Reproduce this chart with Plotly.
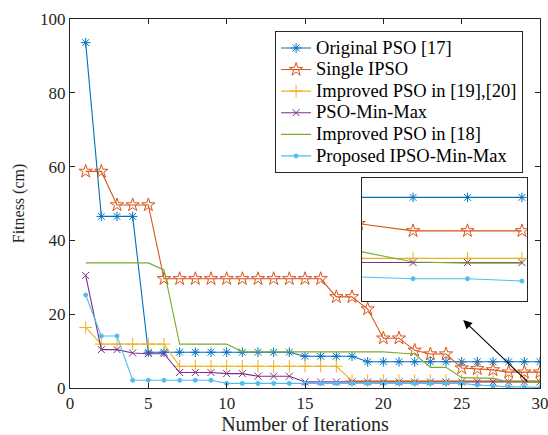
import plotly.graph_objects as go

# Iteration index
iterations = list(range(1, 31))

# Best fitness (cm) per iteration for each optimiser
original_pso = [93.6, 46.5, 46.5, 46.5, 9.7, 9.7, 9.7, 9.7, 9.7, 9.7,
                9.7, 9.7, 9.7, 9.7, 8.6, 8.6, 8.6, 8.6, 7.1, 7.1,
                7.1, 7.1, 7.1, 7.1, 7.1, 7.1, 7.1, 7.1, 7.1, 7.1]
single_ipso = [58.7, 58.7, 49.6, 49.6, 49.6, 29.6, 29.6, 29.6, 29.6, 29.6,
               29.6, 29.6, 29.6, 29.6, 29.6, 29.6, 24.7, 24.7, 21.4, 13.5,
               13.5, 10.2, 9.2, 9.2, 5.4, 5.2, 4.9, 4.3, 4.3, 4.3]
improved_pso_19_20 = [16.4, 11.9, 11.9, 11.9, 11.9, 11.9, 5.9, 5.9, 5.9, 5.9,
                      5.9, 5.9, 5.9, 5.9, 5.9, 5.9, 5.9, 2.0, 2.0, 2.0,
                      2.0, 2.0, 2.0, 2.0, 2.0, 2.0, 2.0, 2.0, 2.0, 2.0]
pso_min_max = [30.5, 10.4, 10.4, 9.5, 9.3, 9.3, 4.2, 4.2, 4.2, 3.9,
               3.9, 3.2, 3.2, 3.2, 1.65, 1.65, 1.65, 1.65, 1.65, 1.65,
               1.65, 1.65, 1.65, 1.65, 1.65, 1.65, 1.65, 1.65, 1.65, 1.65]
improved_pso_18 = [33.9, 33.9, 33.9, 33.9, 33.9, 32.0, 11.9, 11.9, 11.9, 11.9,
                   9.8, 9.8, 9.8, 9.8, 9.8, 9.8, 9.8, 9.8, 9.8, 9.8,
                   9.5, 9.2, 5.6, 5.6, 2.8, 2.7, 2.6, 1.7, 1.6, 1.6]
proposed_ipso_min_max = [25.2, 14.1, 14.1, 2.1, 2.1, 2.1, 2.1, 2.1, 2.1, 1.25,
                         1.25, 1.25, 1.25, 1.25, 1.25, 1.25, 1.25, 1.25, 1.25, 1.25,
                         1.25, 1.25, 1.25, 1.25, 1.25, 0.8, 0.45, 0.3, 0.3, 0.1]

x_ticks = [0, 5, 10, 15, 20, 25, 30]
y_ticks = [0, 20, 40, 60, 80, 100]

FONT = "Liberation Serif, Times New Roman, Times, serif"
AXIS_COLOR = "#262626"
LEGEND_TEXT_PX = 18.5

series = [
    ("Original PSO [17]", original_pso, "#0072BD", "asterisk-open", 8),
    ("Single IPSO", single_ipso, "#D95319", "star-open", 10),
    ("Improved PSO in [19],[20]", improved_pso_19_20, "#EDB120", "cross-thin-open", 9),
    ("PSO-Min-Max", pso_min_max, "#7E2F8E", "x-thin-open", 7),
    ("Improved PSO in [18]", improved_pso_18, "#77AC30", None, 0),
    ("Proposed IPSO-Min-Max", proposed_ipso_min_max, "#4DBEEE", "circle", 4),
]

fig = go.Figure()

for axes_id, show_leg in (("", True), ("2", False)):
    for name, values, color, symbol, size in series:
        if symbol is None:
            mode = "lines"
            marker = None
        else:
            mode = "lines+markers"
            marker = dict(symbol=symbol, size=size, color=color,
                          line=dict(width=1, color=color))
        label = f'<span style="font-size:{LEGEND_TEXT_PX}px">{name}</span>'
        fig.add_trace(go.Scatter(
            x=iterations, y=values, name=label, mode=mode,
            line=dict(color=color, width=1.1),
            marker=marker,
            showlegend=show_leg,
            xaxis="x" + axes_id, yaxis="y" + axes_id,
        ))

axis_common = dict(
    showline=True, linecolor=AXIS_COLOR, linewidth=1, mirror="ticks",
    ticks="inside", ticklen=5, tickcolor=AXIS_COLOR, tickwidth=1,
    showgrid=False, zeroline=False, automargin=False,
    ticklabeloverflow="allow",
    tickfont=dict(family=FONT, size=17, color=AXIS_COLOR),
)

fig.update_layout(
    width=548, height=435,
    margin=dict(l=70, r=8, t=19, b=47),
    paper_bgcolor="white", plot_bgcolor="white",
    font=dict(family=FONT, color="black"),
    xaxis=dict(
        range=[0, 30], tickvals=x_ticks, domain=[0, 1],
        title=dict(text="Number of Iterations", standoff=1,
                   font=dict(family=FONT, size=20, color=AXIS_COLOR)),
        **axis_common,
    ),
    yaxis=dict(
        range=[0, 100], tickvals=y_ticks, domain=[0, 1],
        title=dict(text="Fitness (cm)", standoff=11,
                   font=dict(family=FONT, size=16, color=AXIS_COLOR)),
        **axis_common,
    ),
    xaxis2=dict(
        range=[27.06, 30.09], domain=[0.621, 0.972], anchor="y2",
        showline=True, linecolor=AXIS_COLOR, linewidth=1, mirror=True,
        showticklabels=False, ticks="", showgrid=False, zeroline=False,
    ),
    yaxis2=dict(
        range=[-1.56, 8.72], domain=[0.236, 0.569], anchor="x2",
        showline=True, linecolor=AXIS_COLOR, linewidth=1, mirror=True,
        showticklabels=False, ticks="", showgrid=False, zeroline=False,
    ),
    legend=dict(
        x=0.964, y=0.967, xanchor="right", yanchor="top",
        bgcolor="white", bordercolor=AXIS_COLOR, borderwidth=1,
        font=dict(family=FONT, size=14.3, color="black"),
        tracegroupgap=0, itemwidth=30,
    ),
)

# Arrow from the converged region up to the zoomed inset
arrow_tail = (29.3, 1.35)
arrow_head = (25.1, 18.4)
fig.add_annotation(
    x=arrow_head[0], y=arrow_head[1], ax=arrow_tail[0], ay=arrow_tail[1],
    xref="x", yref="y", axref="x", ayref="y",
    showarrow=True, arrowhead=2, arrowsize=1.6, arrowwidth=1.1,
    arrowcolor="black", text="",
)

fig.write_html("out.html")
